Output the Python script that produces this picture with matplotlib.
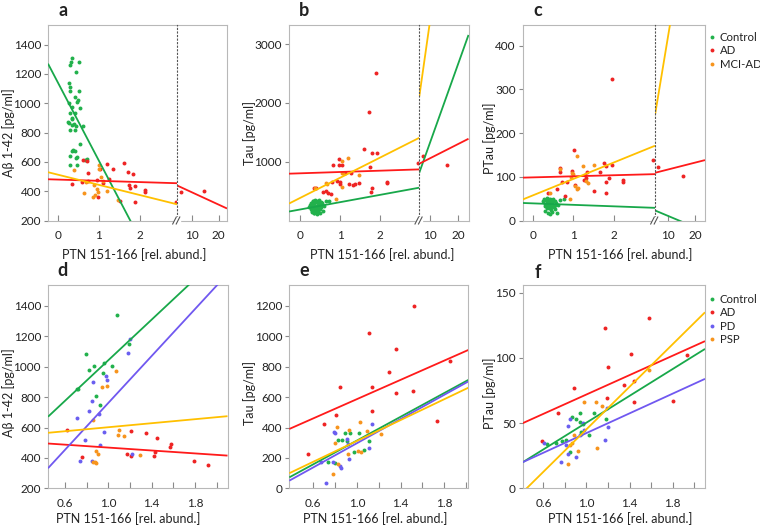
import matplotlib
matplotlib.use('Agg')
import matplotlib.pyplot as plt
from matplotlib.lines import Line2D
import numpy as np

plt.rcParams['font.family'] = ['Lato', 'DejaVu Sans']

# ---------------- data ----------------
GROUPS_TOP = ['Control', 'AD', 'MCI-AD']
GROUPS_BOTTOM = ['Control', 'AD', 'PD', 'PSP']

XLABEL = 'PTN 151-166 [rel. abund.]'
YLABELS = ['A\u03b2 1-42 [pg/ml]', 'Tau [pg/ml]', 'PTau [pg/ml]']

TOP_XTICKS_LEFT = [0, 1, 2]
TOP_XTICKS_RIGHT = [10, 20]
BOTTOM_XTICKS = [0.6, 0.8, 1.0, 1.2, 1.4, 1.6, 1.8, 2.0]
BOTTOM_XTICKLABELS = ['0.6', '', '1.0', '', '1.4', '', '1.8', '']

A_YTICKS = [200, 400, 600, 800, 1000, 1200, 1400]
B_YTICKS = [1000, 2000, 3000]
C_YTICKS = [0, 100, 200, 300, 400]
D_YTICKS = [200, 400, 600, 800, 1000, 1200, 1400]
E_YTICKS = [0, 200, 400, 600, 800, 1000, 1200]
F_YTICKS = [0, 50, 100, 150]

# panel a : Abeta 1-42
a_ctrl_x = [0.35, 0.31, 0.30, 0.52, 0.45, 0.27, 0.30, 0.50, 0.28, 0.42, 0.49, 0.26, 0.47, 0.34, 0.54, 0.42,
            0.29, 0.25, 0.33, 0.35, 0.27, 0.39, 0.34, 0.45, 0.30, 0.62, 0.42, 0.53, 0.37, 0.33, 0.42, 0.72,
            0.67, 0.28, 0.43, 0.47, 0.29, 0.46]
a_ctrl_y = [1305, 1280, 1260, 1280, 1215, 1135, 1110, 1085, 1080, 1045, 1025, 1000, 1010, 975, 965, 935,
            935, 870, 890, 900, 865, 855, 850, 845, 815, 845, 815, 725, 680, 675, 675, 620,
            615, 640, 625, 580, 580, 630]
a_ad_x = [0.60, 0.70, 0.73, 0.35, 0.58, 0.74, 0.95, 1.03, 1.34, 1.61, 1.71, 1.83, 1.75, 1.89, 1.76, 2.14,
          2.14, 1.52, 1.89, 0.99, 1.26, 2.89, 1.20, 1.10, 5.9, 14.6]
a_ad_y = [612, 606, 522, 447, 460, 469, 475, 549, 553, 590, 533, 519, 444, 437, 420, 408,
          394, 331, 326, 362, 481, 324, 585, 455, 396, 398]
a_mci_x = [0.40, 1.01, 1.01, 1.05, 0.68, 0.89, 0.95, 0.99, 0.63, 0.91, 1.19, 1.48, 0.85, 1.10]
a_mci_y = [544, 578, 549, 494, 465, 442, 413, 396, 385, 374, 403, 340, 360, 470]
# regression fits (slope, intercept) for Control, AD, MCI-AD
a_fit_left_slope = [-529, -8.5, -69]
a_fit_left_icpt = [1137, 479, 512]
a_fit_right_slope = [-529, -8.4, -69]
a_fit_right_icpt = [1137, 476, 512]

# panel b : Tau
b_ctrl_x = [0.22, 0.25, 0.27, 0.28, 0.30, 0.31, 0.32, 0.33, 0.34, 0.35, 0.36, 0.37, 0.38, 0.39, 0.40, 0.41,
            0.42, 0.43, 0.44, 0.45, 0.46, 0.47, 0.48, 0.49, 0.50, 0.51, 0.52, 0.53, 0.55, 0.57, 0.60, 0.65,
            0.72, 0.30, 0.36, 0.42, 0.47, 0.54, 0.40, 0.33]
b_ctrl_y = [230, 260, 190, 300, 240, 170, 330, 270, 210, 130, 290, 350, 180, 250, 310, 140,
            220, 330, 270, 160, 200, 300, 240, 130, 280, 190, 320, 230, 260, 170, 240, 330,
            330, 150, 120, 110, 350, 300, 200, 340]
b_ad_x = [1.90, 1.73, 0.98, 0.83, 0.98, 1.04, 1.60, 1.79, 1.92, 1.75, 1.27, 1.13, 0.79, 0.92, 1.00, 1.00,
          1.23, 1.32, 1.38, 1.48, 1.79, 1.77, 2.18, 2.18, 0.35, 0.40, 0.58, 0.65, 0.71, 0.77, 2.94,
          7.4, 15.9]
b_ad_y = [2510, 1840, 1050, 937, 937, 937, 1209, 1141, 1141, 903, 813, 813, 661, 671, 661, 627,
          615, 603, 615, 644, 547, 485, 661, 633, 559, 559, 491, 500, 474, 457, 971,
          1095, 949]
b_mci_x = [1.21, 1.04, 1.04, 1.08, 0.65, 0.68, 1.04, 0.89, 1.48, 0.38]
b_mci_y = [1056, 1010, 813, 813, 644, 627, 576, 361, 768, 555]
b_fit_left_slope = [124.7, 22.4, 343.8]
b_fit_left_icpt = [187, 803, 383]
b_fit_right_slope = [134.7, 24.4, 338]
b_fit_right_icpt = [-21, 815, 16]

# panel c : PTau
c_ctrl_x = [0.26, 0.28, 0.30, 0.31, 0.33, 0.34, 0.35, 0.36, 0.37, 0.38, 0.40, 0.41, 0.42, 0.43, 0.44, 0.45,
            0.46, 0.47, 0.48, 0.50, 0.51, 0.52, 0.54, 0.56, 0.58, 0.60, 0.62, 0.30, 0.35, 0.40, 0.45, 0.50,
            0.55, 0.38, 0.43, 0.76, 0.66]
c_ctrl_y = [45, 50, 38, 22, 47, 30, 42, 52, 35, 18, 45, 28, 50, 38, 25, 48,
            33, 42, 20, 36, 50, 30, 44, 26, 40, 18, 35, 34, 28, 42, 30, 45,
            35, 50, 15, 50, 47]
c_ad_x = [1.02, 0.67, 0.67, 0.97, 1.76, 1.95, 1.82, 0.72, 0.85, 1.04, 1.66, 1.80, 1.80, 1.52, 2.22, 2.22,
          0.61, 0.37, 0.79, 2.97, 1.30, 1.32, 1.26, 1.89, 1.35, 1.95, 6.25, 15.4]
c_ad_y = [162, 120, 112, 113, 131, 128, 124, 88, 89, 82, 112, 89, 63, 67, 92, 88,
          71, 63, 56, 138, 103, 97, 92, 98, 112, 323, 122, 102]
c_mci_x = [1.08, 0.67, 1.51, 1.24, 0.96, 0.99, 1.37, 1.05, 1.10, 1.12, 0.91, 0.43, 0.95, 1.32]
c_mci_y = [147, 118, 128, 125, 109, 106, 86, 78, 72, 75, 50, 64, 100, 90]
c_fit_left_slope = [-3.4, 2.45, 37.6]
c_fit_left_icpt = [39.2, 98.6, 57.4]
c_fit_right_slope = [-2.56, 1.55, 36.8]
c_fit_right_icpt = [35.8, 101.3, 57]

# panel d : Abeta 1-42 (Control, AD, PD, PSP)
d_ctrl_x = [1.08, 0.79, 1.19, 0.87, 0.82, 0.96, 1.03, 0.95, 0.71, 0.89, 0.92, 0.72]
d_ctrl_y = [1341, 1083, 1148, 1008, 980, 1023, 1006, 958, 853, 809, 745, 853]
d_ad_x = [0.62, 0.76, 1.21, 1.35, 1.45, 1.17, 1.21, 1.43, 1.42, 1.58, 1.57, 1.79, 1.92]
d_ad_y = [585, 404, 575, 564, 528, 426, 410, 439, 410, 491, 472, 382, 356]
d_pd_x = [1.20, 1.18, 0.98, 0.99, 0.86, 0.85, 0.82, 0.71, 0.91, 0.78, 0.96, 0.92, 1.22, 0.74, 0.85]
d_pd_y = [1181, 1089, 936, 910, 899, 772, 710, 662, 690, 515, 568, 487, 428, 377, 382]
d_psp_x = [1.07, 0.94, 0.99, 0.86, 1.10, 1.09, 1.14, 0.89, 0.90, 1.29, 0.86, 0.88, 0.89]
d_psp_y = [975, 866, 874, 647, 581, 553, 546, 443, 426, 419, 375, 371, 366]
d_fit_slope = [668, -48, 772, 66]
d_fit_icpt = [375, 516, -10, 536]

# panel e : Tau
e_ctrl_x = [0.89, 0.83, 0.86, 1.02, 1.11, 0.97, 0.73, 0.80, 0.91, 0.94, 1.06]
e_ctrl_y = [366, 318, 316, 362, 314, 241, 175, 164, 311, 365, 250]
e_ad_x = [1.52, 1.11, 1.36, 1.29, 0.84, 1.14, 1.36, 1.51, 1.14, 1.85, 0.81, 0.70, 1.73, 0.55]
e_ad_y = [1200, 1020, 914, 763, 667, 669, 625, 643, 509, 840, 482, 421, 445, 224]
e_pd_x = [0.79, 0.80, 0.91, 0.92, 1.14, 1.11, 0.93, 0.78, 0.67, 0.84, 0.85, 0.72]
e_pd_y = [370, 362, 322, 292, 423, 263, 195, 175, 171, 147, 132, 33]
e_psp_x = [0.82, 0.93, 1.03, 1.09, 1.22, 0.80, 1.01, 1.04, 0.78, 0.83, 0.92]
e_psp_y = [406, 384, 436, 377, 355, 296, 246, 237, 92, 158, 226]
e_fit_slope = [391, 317, 398, 343]
e_fit_icpt = [-76.6, 270, -101, -31]

# panel f : PTau
f_ctrl_x = [0.87, 0.94, 1.07, 1.18, 0.90, 0.94, 0.97, 1.02, 0.95, 0.95, 0.77, 0.81, 0.85, 0.63, 0.72]
f_ctrl_y = [55, 58, 58, 53, 53, 51, 49, 41, 43, 42, 36, 37, 28, 34, 35]
f_ad_x = [1.58, 1.17, 1.41, 1.93, 1.20, 1.35, 1.44, 0.88, 1.19, 1.44, 1.80, 0.74, 0.59]
f_ad_y = [131, 123, 103, 102, 93, 79, 82, 77, 69, 66, 67, 58, 36]
f_pd_x = [0.85, 0.83, 0.97, 0.98, 1.20, 1.19, 0.94, 0.81, 0.61, 0.83, 0.76, 0.90, 1.17]
f_pd_y = [53, 48, 50, 45, 47, 62, 41, 33, 35, 26, 20, 24, 37]
f_psp_x = [0.98, 1.09, 1.14, 0.88, 0.87, 0.85, 0.92, 1.10, 0.83, 1.58]
f_psp_y = [66, 66, 63, 41, 35, 33, 29, 31, 19, 91]
f_fit_slope = [51.4, 37.2, 37.8, 81.6]
f_fit_icpt = [-1, 34.8, 4.6, -36.3]

# ---------------- style ----------------
W, H = 760, 530
C_GREEN, C_RED, C_ORANGE, C_BLUE = '#22b14c', '#ee2424', '#f7941d', '#6a5ef0'
L_GREEN, L_RED, L_YELLOW, L_BLUE = '#18a84a', '#ff1a1a', '#ffc000', '#7058f0'
SPINE = '#b8b8b8'
TXT = '#222222'
TICK_FS = 8.5
LABEL_FS = 9

fig = plt.figure(figsize=(W / 100, H / 100), dpi=100)


def add_ax(l, t, r, b):
    return fig.add_axes([l / W, 1 - b / H, (r - l) / W, (b - t) / H])


def style(ax):
    for s in ax.spines.values():
        s.set_color(SPINE)
        s.set_linewidth(0.8)
    ax.tick_params(axis='x', direction='in', length=4, width=0.8, color='#8a8a8a',
                   pad=7, labelsize=TICK_FS, labelcolor=TXT)
    ax.tick_params(axis='y', direction='out', length=3, width=0.8, color='#8a8a8a',
                   pad=2, labelsize=TICK_FS, labelcolor=TXT)
    ax.set_facecolor('white')


def draw_points(ax, xs, ys, color):
    ax.scatter(xs, ys, s=8, color=color, linewidths=0, zorder=3)


def draw_fit(ax, slope, icpt, color):
    x = np.array(ax.get_xlim())
    ax.plot(x, icpt + slope * x, color=color, lw=1.3, zorder=4, solid_capstyle='butt')


def break_mark(xpx, ypx):
    # white gap and two slashes on the bottom spine
    fig.patches.append(plt.Rectangle(((xpx - 3) / W, 1 - (ypx + 4) / H), 6 / W, 8 / H,
                                     transform=fig.transFigure, color='white', zorder=10))
    for dx in (-2.5, 1.0):
        fig.add_artist(Line2D([(xpx + dx - 1.8) / W, (xpx + dx + 1.8) / W],
                              [1 - (ypx + 3.5) / H, 1 - (ypx - 3.5) / H],
                              transform=fig.transFigure, color='#555555', lw=0.8, zorder=11))


def broken_panel(box, split, xl_left, xl_right, ylim, yticks, pts, fl_s, fl_i, fr_s, fr_i, letter):
    l, t, r, b = box
    axL = add_ax(l, t, split, b)
    axR = add_ax(split, t, r, b)
    for ax, xl in ((axL, xl_left), (axR, xl_right)):
        style(ax)
        ax.set_xlim(xl)
        ax.set_ylim(ylim)
        for xs, ys, c in pts:
            draw_points(ax, xs, ys, c)
    line_colors = [L_GREEN, L_RED, L_YELLOW]
    for s_, i_, c in zip(fl_s, fl_i, line_colors):
        draw_fit(axL, s_, i_, c)
    for s_, i_, c in zip(fr_s, fr_i, line_colors):
        draw_fit(axR, s_, i_, c)
    axL.set_yticks(yticks)
    axL.set_xticks(TOP_XTICKS_LEFT)
    axR.set_xticks(TOP_XTICKS_RIGHT)
    axL.set_xlim(xl_left)
    axR.set_xlim(xl_right)
    axL.set_ylim(ylim)
    axR.set_ylim(ylim)
    axR.tick_params(axis='y', left=False, labelleft=False)
    axL.spines['right'].set_visible(False)
    axR.spines['left'].set_color('#555555')
    axR.spines['left'].set_linestyle((0, (1.0, 2.2)))
    axR.spines['left'].set_linewidth(0.8)
    axR.spines['left'].set_zorder(6)
    break_mark(split, b)
    fig.text((l + 15) / W, 1 - 11 / H, letter, fontsize=13, fontweight='bold', ha='center', va='center', color=TXT)
    return axL, axR


def simple_panel(box, xlim, ylim, yticks, pts, f_s, f_i, letter, ly):
    l, t, r, b = box
    ax = add_ax(l, t, r, b)
    style(ax)
    ax.set_xlim(xlim)
    ax.set_ylim(ylim)
    for xs, ys, c in pts:
        draw_points(ax, xs, ys, c)
    for s_, i_, c in zip(f_s, f_i, [L_GREEN, L_RED, L_BLUE, L_YELLOW]):
        draw_fit(ax, s_, i_, c)
    ax.set_xticks(BOTTOM_XTICKS)
    ax.set_xticklabels(BOTTOM_XTICKLABELS)
    ax.set_yticks(yticks)
    ax.set_xlim(xlim)
    ax.set_ylim(ylim)
    fig.text((l + 15) / W, 1 - ly / H, letter, fontsize=13, fontweight='bold', ha='center', va='center', color=TXT)
    return ax


# top row
broken_panel((48, 25, 227, 220.5), 177, (-0.25, 2.92), (4.4, 23.1), (200, 1533), A_YTICKS,
             [(a_ctrl_x, a_ctrl_y, C_GREEN), (a_ad_x, a_ad_y, C_RED), (a_mci_x, a_mci_y, C_ORANGE)],
             a_fit_left_slope, a_fit_left_icpt, a_fit_right_slope, a_fit_right_icpt, 'a')
broken_panel((289, 25, 468.5, 220.5), 419.3, (-0.275, 2.98), (6.2, 23.6), (0, 3327), B_YTICKS,
             [(b_ctrl_x, b_ctrl_y, C_GREEN), (b_ad_x, b_ad_y, C_RED), (b_mci_x, b_mci_y, C_ORANGE)],
             b_fit_left_slope, b_fit_left_icpt, b_fit_right_slope, b_fit_right_icpt, 'b')
broken_panel((522.7, 25, 705, 220.5), 655, (-0.25, 3.02), (5.0, 23.75), (0, 447), C_YTICKS,
             [(c_ctrl_x, c_ctrl_y, C_GREEN), (c_ad_x, c_ad_y, C_RED), (c_mci_x, c_mci_y, C_ORANGE)],
             c_fit_left_slope, c_fit_left_icpt, c_fit_right_slope, c_fit_right_icpt, 'c')

# bottom row
simple_panel((48, 285, 227.5, 488.3), (0.443, 2.10), (200, 1538), D_YTICKS,
             [(d_ctrl_x, d_ctrl_y, C_GREEN), (d_ad_x, d_ad_y, C_RED), (d_pd_x, d_pd_y, C_BLUE),
              (d_psp_x, d_psp_y, C_ORANGE)], d_fit_slope, d_fit_icpt, 'd', 270)
simple_panel((289.3, 285, 468.3, 488.3), (0.38, 2.02), (0, 1338), E_YTICKS,
             [(e_ctrl_x, e_ctrl_y, C_GREEN), (e_ad_x, e_ad_y, C_RED), (e_pd_x, e_pd_y, C_BLUE),
              (e_psp_x, e_psp_y, C_ORANGE)], e_fit_slope, e_fit_icpt, 'e', 270)
simple_panel((522.7, 285, 705, 488.3), (0.408, 2.10), (0, 156), F_YTICKS,
             [(f_ctrl_x, f_ctrl_y, C_GREEN), (f_ad_x, f_ad_y, C_RED), (f_pd_x, f_pd_y, C_BLUE),
              (f_psp_x, f_psp_y, C_ORANGE)], f_fit_slope, f_fit_icpt, 'f', 272)

# axis labels
for cx, cy in ((134, 255), (382, 255), (620, 255), (128, 519), (375, 519), (620, 519)):
    fig.text(cx / W, 1 - cy / H, XLABEL, fontsize=LABEL_FS, ha='center', va='center', color=TXT)
for (cx, cy), lab in zip(((9, 133), (250, 133), (490, 138), (9, 393), (250, 393), (490, 393)),
                         YLABELS + YLABELS):
    fig.text(cx / W, 1 - cy / H, lab, fontsize=LABEL_FS, rotation=90, ha='center', va='center', color=TXT)


# legends
def legend(labels, colors, top):
    handles = [Line2D([], [], marker='o', linestyle='none', markersize=2.8,
                      markerfacecolor=c, markeredgecolor=c, markeredgewidth=0)
               for c in colors]
    leg = fig.legend(handles, labels, loc='upper left', bbox_to_anchor=(709 / W, 1 - top / H), frameon=False,
                     fontsize=8.2, handlelength=0.5, handletextpad=0.45, labelspacing=0.2,
                     borderaxespad=0, borderpad=0)
    for t in leg.get_texts():
        t.set_color(TXT)


legend(GROUPS_TOP, [C_GREEN, C_RED, C_ORANGE], 32)
legend(GROUPS_BOTTOM, [C_GREEN, C_RED, C_BLUE, C_ORANGE], 294)

fig.savefig('out.png', dpi=100, facecolor='white')
